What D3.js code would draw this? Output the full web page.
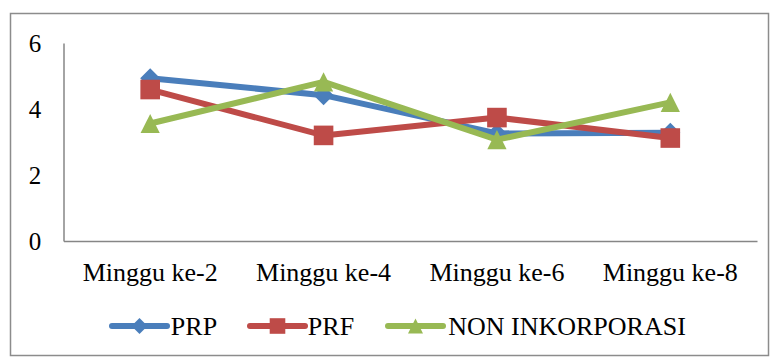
<!DOCTYPE html>
<html>
<head>
<meta charset="utf-8">
<script src="https://cdn.jsdelivr.net/npm/d3@7"></script>
</head>
<body style="margin:0">
<svg id="chart" width="771" height="358"></svg>
<script>
// Week categories on the x axis
const categories = ["Minggu ke-2", "Minggu ke-4", "Minggu ke-6", "Minggu ke-8"];

// Series values per week
const prp = [4.93, 4.42, 3.26, 3.28];
const prf = [4.59, 3.20, 3.74, 3.12];
const nonInkorporasi = [3.56, 4.82, 3.07, 4.20];

// Y axis tick labels
const yTicks = [0, 2, 4, 6];

const seriesNames = ["PRP", "PRF", "NON INKORPORASI"];
const seriesColors = ["#4a7ebb", "#be4b48", "#98b954"];
const seriesValues = [prp, prf, nonInkorporasi];

// Marker shapes: diamond = square turned 45°, square, upright triangle
function markerPath(kind, r) {
  if (kind === 0) return `M0,${-r}L${r},0L0,${r}L${-r},0Z`;
  if (kind === 1) return `M${-r},${-r}H${r}V${r}H${-r}Z`;
  return `M0,${-r}L${r},${r}L${-r},${r}Z`;
}

const plot = { left: 63.5, right: 757, top: 43, bottom: 241 };

const svg = d3.select("#chart");

// Outer chart frame
svg.append("rect")
  .attr("x", 10.5).attr("y", 13.5)
  .attr("width", 758).attr("height", 342)
  .attr("fill", "#fff")
  .attr("stroke", "#8c8c8c")
  .attr("stroke-width", 1.5);

const x = d3.scaleBand().domain(categories).range([plot.left, plot.right]).padding(0);
const y = d3.scaleLinear().domain([0, 6]).range([plot.bottom, plot.top]);

const cx = c => x(c) + x.bandwidth() / 2;

// Axis lines
const yAxis = d3.axisLeft(y).tickValues([]).tickSize(0);
svg.append("g").attr("transform", `translate(${plot.left},0)`).call(yAxis)
  .select(".domain").attr("stroke", "#868686").attr("stroke-width", 1.5);
const xAxis = d3.axisBottom(x).tickValues([]).tickSize(0);
svg.append("g").attr("transform", `translate(0,${plot.bottom})`).call(xAxis)
  .select(".domain").attr("stroke", "#868686").attr("stroke-width", 1.5);

// Y tick labels
yTicks.forEach(t => {
  svg.append("text")
    .attr("x", plot.left - 28.5).attr("y", y(t) + 8.5)
    .attr("text-anchor", "middle")
    .style("font-family", '"Liberation Serif"')
    .style("font-size", "25px")
    .text(String(t));
});

// Category labels
categories.forEach(c => {
  svg.append("text")
    .attr("x", cx(c)).attr("y", plot.bottom + 40)
    .attr("text-anchor", "middle")
    .style("font-family", '"Liberation Serif"')
    .style("font-size", "26px")
    .text(c);
});

const line = d3.line()
  .x((d, i) => cx(categories[i]))
  .y(d => y(d));

// Lines and markers, drawn series by series
const markerR = [10, 9.8, 9.6];
seriesValues.forEach((vals, s) => {
  const g = svg.append("g");
  g.append("path")
    .datum(vals)
    .attr("d", line)
    .attr("fill", "none")
    .attr("stroke", seriesColors[s])
    .attr("stroke-width", 6)
    .attr("stroke-linejoin", "round")
    .attr("stroke-linecap", "round");
  g.selectAll("path.m")
    .data(vals)
    .join("path")
    .attr("class", "m")
    .attr("transform", (d, i) => `translate(${cx(categories[i])},${y(d)})`)
    .attr("d", markerPath(s, markerR[s]))
    .attr("fill", seriesColors[s]);
});

// Legend
const legendItems = [
  { lx: 112, tc: 194 },
  { lx: 250, tc: 331 },
  { lx: 388, tc: 567 }
];
const legendR = [8, 7.8, 7.5];
const ly = 326;
seriesNames.forEach((name, s) => {
  const it = legendItems[s];
  svg.append("line")
    .attr("x1", it.lx).attr("x2", it.lx + 55)
    .attr("y1", ly).attr("y2", ly)
    .attr("stroke", seriesColors[s])
    .attr("stroke-width", 6)
    .attr("stroke-linecap", "round");
  svg.append("path")
    .attr("transform", `translate(${it.lx + 27.5},${ly})`)
    .attr("d", markerPath(s, legendR[s]))
    .attr("fill", seriesColors[s]);
});
seriesNames.forEach((name, s) => {
  svg.append("text")
    .attr("x", legendItems[s].tc).attr("y", ly + 9)
    .attr("text-anchor", "middle")
    .style("font-family", '"Liberation Serif"')
    .style("font-size", "26px")
    .text(name);
});
</script>
</body>
</html>
